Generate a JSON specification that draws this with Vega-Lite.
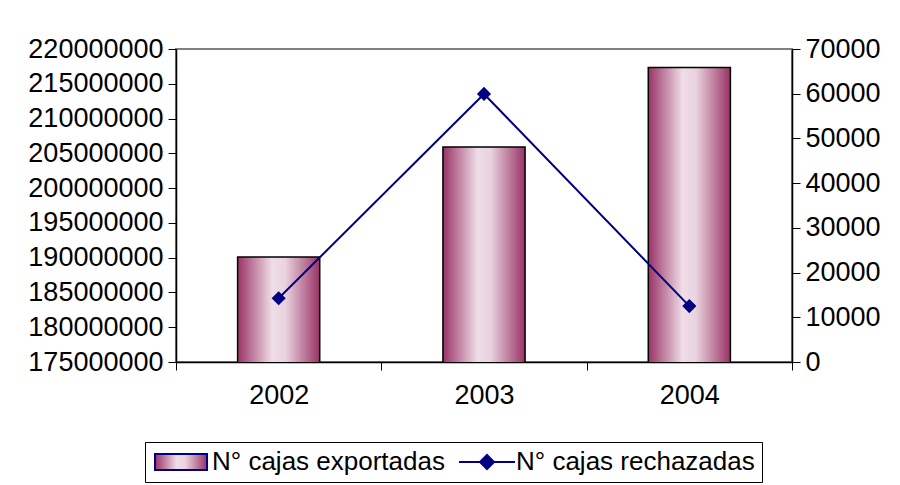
{
  "$schema": "https://vega.github.io/schema/vega-lite/v6.json",
  "width": 616,
  "height": 313,
  "autosize": {"type": "none"},
  "padding": {"left": 176, "top": 49, "right": 108, "bottom": 123},
  "background": "white",
  "config": {
    "font": "Liberation Sans",
    "view": {"stroke": "#808080", "strokeWidth": 2},
    "axis": {
      "labelFont": "Liberation Sans",
      "labelFontSize": 27,
      "labelColor": "black",
      "domainColor": "black",
      "domainWidth": 1.5,
      "tickColor": "black",
      "tickWidth": 1,
      "tickSize": 8,
      "grid": false,
      "title": null,
      "zindex": 1
    }
  },
  "data": {
    "values": [
      {"year": "2002", "exportadas": 190100000, "rechazadas": 14250, "serie": "N° cajas rechazadas"},
      {"year": "2003", "exportadas": 205900000, "rechazadas": 59950, "serie": "N° cajas rechazadas"},
      {"year": "2004", "exportadas": 217350000, "rechazadas": 12500, "serie": "N° cajas rechazadas"}
    ]
  },
  "encoding": {
    "x": {
      "field": "year",
      "type": "nominal",
      "scale": {"paddingInner": 0, "paddingOuter": 0},
      "axis": {"labelAngle": 0, "tickBand": "extent", "labelPadding": 12}
    }
  },
  "layer": [
    {
      "mark": {
        "type": "bar",
        "clip": true,
        "width": {"band": 0.4},
        "color": {
          "gradient": "linear",
          "x1": 0, "x2": 1, "y1": 0, "y2": 0,
          "stops": [
            {"offset": 0, "color": "#993366"},
            {"offset": 0.42, "color": "#efdde7"},
            {"offset": 0.58, "color": "#e9d3df"},
            {"offset": 1, "color": "#993366"}
          ]
        },
        "stroke": "black",
        "strokeWidth": 1.5
      },
      "encoding": {
        "y": {
          "field": "exportadas",
          "type": "quantitative",
          "scale": {"domain": [175000000, 220000000], "nice": false, "zero": false},
          "axis": {
            "values": [175000000, 180000000, 185000000, 190000000, 195000000, 200000000, 205000000, 210000000, 215000000, 220000000],
            "format": "d",
            "labelPadding": 5
          }
        }
      }
    },
    {
      "encoding": {
        "y": {
          "field": "rechazadas",
          "type": "quantitative",
          "scale": {"domain": [0, 70000], "nice": false},
          "axis": {
            "orient": "right",
            "values": [0, 10000, 20000, 30000, 40000, 50000, 60000, 70000],
            "format": "d",
            "labelPadding": 5
          }
        }
      },
      "layer": [
        {
          "mark": {"type": "line", "color": "#000080", "strokeWidth": 2},
          "encoding": {
            "color": {
              "field": "serie",
              "type": "nominal",
              "scale": {"domain": ["N° cajas exportadas", "N° cajas rechazadas"], "range": ["#000080", "#000080"]},
              "legend": {
                "title": null,
                "orient": "none",
                "legendX": -31,
                "legendY": 393,
                "direction": "horizontal",
                "strokeColor": "black",
                "fillColor": "white",
                "padding": 7,
                "labelFont": "Liberation Sans",
                "labelFontSize": 26,
                "labelColor": "black",
                "labelOffset": 34,
                "columnPadding": 10,
                "symbolSize": 400,
                "labelLimit": 400,
                "encode": {
                  "symbols": {
                    "update": {
                      "shape": [
                        {"test": "datum.value === 'N° cajas exportadas'", "value": "M-1,-0.8L4.2,-0.8L4.2,0.8L-1,0.8Z"},
                        {"value": "M-1,0L4.6,0M1.8,-0.7L2.5,0L1.8,0.7L1.1,0Z"}
                      ],
                      "fill": [
                        {"test": "datum.value === 'N° cajas exportadas'", "value": {"gradient": "linear", "x1": 0, "x2": 1, "y1": 0, "y2": 0, "stops": [{"offset": 0, "color": "#993366"}, {"offset": 0.42, "color": "#efdde7"}, {"offset": 0.58, "color": "#e9d3df"}, {"offset": 1, "color": "#993366"}]}},
                        {"value": "#000080"}
                      ],
                      "stroke": [
                        {"test": "datum.value === 'N° cajas exportadas'", "value": "black"},
                        {"value": "#000080"}
                      ],
                      "strokeWidth": {"value": 2},
                      "opacity": {"value": 1},
                      "fillOpacity": {"value": 1}
                    }
                  }
                }
              }
            }
          }
        },
        {
          "mark": {"type": "point", "shape": "diamond", "filled": true, "size": 200, "color": "#000080", "opacity": 1}
        }
      ]
    }
  ],
  "resolve": {"scale": {"y": "independent"}}
}
